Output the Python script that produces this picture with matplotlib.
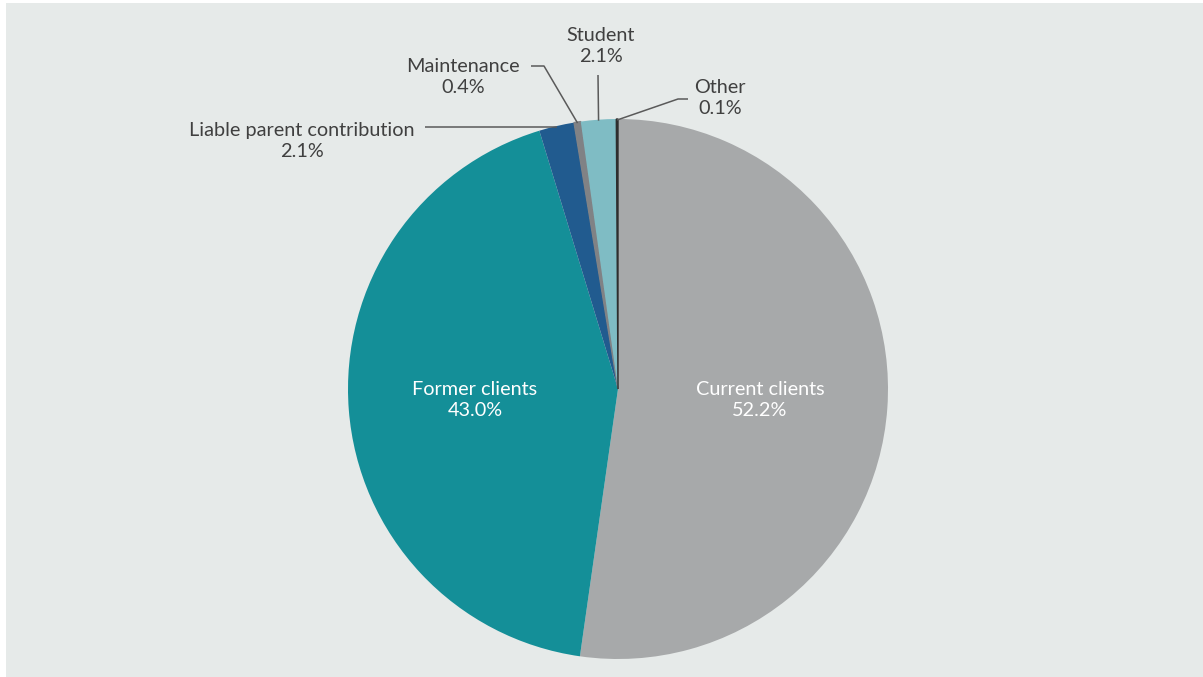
import matplotlib
matplotlib.use("Agg")
import matplotlib.pyplot as plt
import numpy as np

categories = ["Current clients", "Former clients", "Liable parent contribution",
              "Maintenance", "Student", "Other"]
values = [52.2, 43.0, 2.1, 0.4, 2.1, 0.1]
colors = ["#a7a9aa", "#148f98", "#215b8f", "#808285", "#7fbcc4", "#2e2e2e"]

W, H = 1203, 677
fig = plt.figure(figsize=(W / 100, H / 100), dpi=100)
fig.patch.set_facecolor("white")
ax = fig.add_axes([0, 0, 1, 1])

def Y(y):
    return H - y

# background panel
ax.add_patch(plt.Rectangle((6, 0), W - 6, H - 3, facecolor="#e6eae9", edgecolor="none", zorder=0))

cx, cy, R = 618, Y(389), 270
wedges, _ = ax.pie(values, colors=colors, startangle=90, counterclock=False,
                   center=(cx, cy), radius=R, frame=True,
                   wedgeprops=dict(linewidth=0, zorder=2))
# make the thin slices visible as in the reference
for i in (3, 5):
    wedges[i].set_edgecolor(colors[i])
    wedges[i].set_linewidth(1.0)
ax.set_xlim(0, W)
ax.set_ylim(0, H)
ax.set_aspect("equal")
ax.axis("off")

font = "Lato"
fs = 14.3
tc = "#404040"
lc = "#5a5a5a"

def mid_point(i, r=R):
    w = wedges[i]
    a = np.deg2rad((w.theta1 + w.theta2) / 2)
    return cx + r * np.cos(a), cy + r * np.sin(a)

# inside labels
for i, (x, y) in [(0, (760, 400)), (1, (475, 400))]:
    ax.text(x, Y(y), f"{categories[i]}\n{values[i]:.1f}%", ha="center", va="center",
            color="white", fontsize=fs, family=font, linespacing=1.3, zorder=3)

# outside labels
outs = {
    2: ((302, 141), [(425, 128)]),
    3: ((463, 77), [(531, 66), (544, 66)]),
    4: ((601, 46), [(598, 75)]),
    5: ((720, 98), [(688, 99), (678, 99)]),
}
for i, ((tx, ty), pts) in outs.items():
    ax.text(tx, Y(ty), f"{categories[i]}\n{values[i]:.1f}%", ha="center", va="center",
            color=tc, fontsize=fs, family=font, linespacing=1.3, zorder=3)
    ex, ey = mid_point(i, R - 1)
    xs = [p[0] for p in pts]
    ys = [Y(p[1]) for p in pts]
    if i == 2:
        ys = [ey]
    xs.append(ex)
    ys.append(ey)
    ax.plot(xs, ys, color=lc, lw=1.1, zorder=4, solid_capstyle="butt")

fig.savefig("out.png", dpi=100, facecolor=fig.get_facecolor())
